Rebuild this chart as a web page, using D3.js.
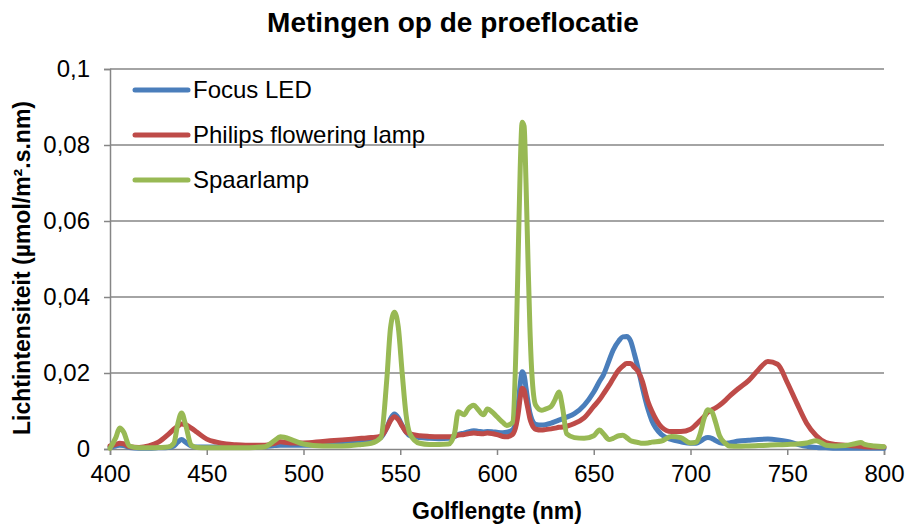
<!DOCTYPE html>
<html>
<head>
<meta charset="utf-8">
<script src="https://cdn.jsdelivr.net/npm/d3@7"></script>
<style>
  html, body { margin: 0; padding: 0; background: #fff; }
  svg { display: block; font-family: "Liberation Sans", Arial, sans-serif; }
</style>
</head>
<body>
<svg id="chart" width="908" height="526"></svg>
<script>
const wavelengths = [400,403,405,407,410,415,420,425,430,433,435,437,439,442,445,450,455,460,465,470,475,480,485,488,490,495,500,510,520,530,535,540,543,545,547,549,551,553,555,560,565,570,575,578,580,583,585,588,590,593,595,598,600,603,605,608,610,611,612,613,614,615,616,617,618,620,623,625,628,630,632,634,636,640,645,650,653,655,658,660,663,665,667,669,671,673,675,678,680,685,690,695,700,703,705,707,709,711,713,715,718,720,725,730,735,740,745,750,755,760,765,770,775,780,785,788,790,795,800];

const focusLED = [0.0005,0.0008,0.001,0.0009,0.0004,0.0002,0.0002,0.0003,0.0004,0.0008,0.0018,0.0025,0.0018,0.0008,0.0005,0.0005,0.0005,0.0005,0.0005,0.0005,0.0006,0.0007,0.0009,0.001,0.001,0.001,0.001,0.0012,0.0015,0.0019,0.0022,0.003,0.0055,0.008,0.0092,0.0082,0.0062,0.0045,0.0035,0.003,0.0028,0.0027,0.0028,0.0032,0.0038,0.0042,0.0045,0.0048,0.0047,0.0045,0.0046,0.0045,0.0044,0.0043,0.0044,0.005,0.008,0.012,0.017,0.0203,0.0195,0.016,0.0125,0.0095,0.0078,0.0065,0.0063,0.0064,0.0068,0.0072,0.0076,0.008,0.0084,0.0093,0.0115,0.015,0.0178,0.0195,0.0234,0.026,0.0285,0.0295,0.0296,0.0285,0.025,0.021,0.0165,0.0105,0.0075,0.0038,0.0025,0.0019,0.0015,0.0015,0.002,0.0027,0.003,0.0028,0.0022,0.0017,0.0015,0.0016,0.0021,0.0023,0.0025,0.0026,0.0024,0.002,0.0013,0.0007,0.0004,0.0003,0.0002,0.0002,0.0002,0.0002,0.0002,0.0002,0.0002];

const philips = [0.0008,0.0012,0.0015,0.0014,0.0006,0.0004,0.0008,0.0018,0.0038,0.0052,0.006,0.0066,0.0064,0.0055,0.0044,0.0026,0.0018,0.0013,0.0011,0.001,0.001,0.001,0.0015,0.0019,0.0018,0.0016,0.0016,0.002,0.0024,0.0028,0.003,0.0034,0.0055,0.0075,0.0085,0.0077,0.006,0.0045,0.004,0.0035,0.0033,0.0032,0.0032,0.0034,0.0037,0.0038,0.004,0.0042,0.0041,0.004,0.0042,0.004,0.0038,0.0033,0.0032,0.0038,0.0065,0.0095,0.0135,0.016,0.0155,0.013,0.0105,0.008,0.0065,0.0052,0.005,0.0051,0.0053,0.0055,0.0057,0.0058,0.006,0.0067,0.0082,0.0112,0.013,0.0145,0.0168,0.0185,0.0208,0.0218,0.0225,0.0225,0.0215,0.0203,0.018,0.0125,0.01,0.0058,0.0046,0.0046,0.0052,0.0065,0.0075,0.0085,0.0097,0.0103,0.0108,0.0115,0.0128,0.0138,0.016,0.018,0.0208,0.023,0.0223,0.0175,0.012,0.0068,0.0035,0.0017,0.0012,0.001,0.0008,0.0007,0.0006,0.0005,0.0005];

const spaarlamp = [0.0002,0.003,0.0055,0.0045,0.0008,0.0003,0.0003,0.0004,0.0005,0.0015,0.0065,0.0095,0.0065,0.001,0.0004,0.0003,0.0003,0.0003,0.0003,0.0003,0.0004,0.0006,0.0022,0.0032,0.0031,0.0022,0.0013,0.0008,0.0008,0.0012,0.0015,0.003,0.018,0.032,0.036,0.032,0.02,0.009,0.004,0.0015,0.0012,0.0012,0.0013,0.004,0.0098,0.009,0.0105,0.0115,0.0105,0.009,0.0105,0.0095,0.0085,0.007,0.0062,0.007,0.03,0.052,0.074,0.086,0.085,0.07,0.05,0.032,0.02,0.0115,0.0102,0.0105,0.0112,0.013,0.015,0.0105,0.004,0.003,0.0028,0.0035,0.005,0.004,0.0025,0.0028,0.0035,0.0036,0.003,0.0022,0.0019,0.0017,0.0015,0.0016,0.0018,0.0021,0.0033,0.003,0.0016,0.0018,0.004,0.008,0.0103,0.0098,0.007,0.0035,0.0015,0.0008,0.0007,0.0008,0.0009,0.001,0.0011,0.0012,0.0013,0.0016,0.0022,0.001,0.0008,0.0009,0.0014,0.0017,0.0012,0.0008,0.0006];

const seriesNames = ["Focus LED", "Philips flowering lamp", "Spaarlamp"];
const seriesColors = ["#4A7EBB", "#BE4B48", "#98B954"];
const xTicks = [400,450,500,550,600,650,700,750,800];
const yTicks = [0,0.02,0.04,0.06,0.08,0.1];
const yTickLabels = ["0","0,02","0,04","0,06","0,08","0,1"];

const title = "Metingen op de proeflocatie";
const xTitle = "Golflengte (nm)";
const yTitle = "Lichtintensiteit (µmol/m².s.nm)";

const svg = d3.select("#chart");
const M = {left: 110, right: 884, top: 69, bottom: 449};

const x = d3.scaleLinear().domain([400, 800]).range([M.left, M.right]);
const y = d3.scaleLinear().domain([0, 0.1]).range([M.bottom, M.top]);
const gridColor = "#868686";

// gridlines
svg.append("g").selectAll("line").data(yTicks.slice(1)).join("line")
  .attr("x1", M.left).attr("x2", M.right)
  .attr("y1", d => y(d)).attr("y2", d => y(d))
  .attr("stroke", gridColor).attr("stroke-width", 1.5);

// x axis
const xAxis = d3.axisBottom(x).tickValues(xTicks).tickFormat(d3.format("d")).tickSize(6).tickPadding(10);
const gx = svg.append("g").attr("transform", `translate(0,${M.bottom})`).call(xAxis);
gx.select(".domain").attr("stroke", gridColor).attr("stroke-width", 1.5);
gx.selectAll(".tick line").attr("stroke", gridColor).attr("stroke-width", 1.5);
gx.selectAll(".tick text").attr("font-size", 24).attr("fill", "#000")
  .attr("font-family", "Liberation Sans, Arial, sans-serif");

// y axis
const yAxis = d3.axisLeft(y).tickValues(yTicks).tickFormat((d, i) => yTickLabels[i]).tickSize(6).tickPadding(14);
const gy = svg.append("g").attr("transform", `translate(${M.left},0)`).call(yAxis);
gy.select(".domain").attr("stroke", gridColor).attr("stroke-width", 1.5);
gy.selectAll(".tick line").attr("stroke", gridColor).attr("stroke-width", 1.5);
gy.selectAll(".tick text").attr("font-size", 24).attr("fill", "#000")
  .attr("font-family", "Liberation Sans, Arial, sans-serif");

// lines
const allSeries = [focusLED, philips, spaarlamp];
const line = d3.line()
  .x((d, i) => x(wavelengths[i]))
  .y(d => y(d))
  .curve(d3.curveMonotoneX);

svg.append("g").selectAll("path").data(allSeries).join("path")
  .attr("d", d => line(d))
  .attr("fill", "none")
  .attr("stroke", (d, i) => seriesColors[i])
  .attr("stroke-width", 5)
  .attr("stroke-linejoin", "round")
  .attr("stroke-linecap", "round");

// legend
const legend = svg.append("g");
const legY = [90, 135, 180];
seriesNames.forEach((name, i) => {
  legend.append("line")
    .attr("x1", 135).attr("x2", 188)
    .attr("y1", legY[i]).attr("y2", legY[i])
    .attr("stroke", seriesColors[i]).attr("stroke-width", 5)
    .attr("stroke-linecap", "round");
  legend.append("text")
    .attr("x", 193).attr("y", legY[i] + 8)
    .attr("font-size", 24).attr("fill", "#000")
    .text(name);
});

// title
svg.append("text")
  .attr("x", 453).attr("y", 32)
  .attr("text-anchor", "middle")
  .attr("font-size", 28).attr("font-weight", "bold")
  .text(title);

// x title
svg.append("text")
  .attr("x", 497).attr("y", 519)
  .attr("text-anchor", "middle")
  .attr("font-size", 23).attr("font-weight", "bold")
  .text(xTitle);

// y title
svg.append("text")
  .attr("transform", `translate(30,${(M.top + M.bottom) / 2 + 9}) rotate(-90)`)
  .attr("text-anchor", "middle")
  .attr("font-size", 23).attr("font-weight", "bold")
  .text(yTitle);
</script>
</body>
</html>
